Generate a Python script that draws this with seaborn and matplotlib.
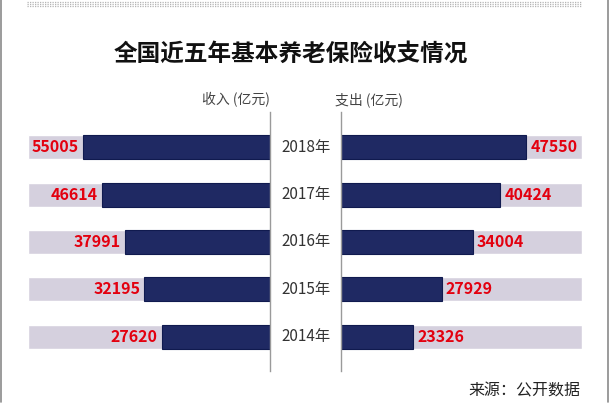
import pandas as pd
import matplotlib.pyplot as plt
import seaborn as sns
from matplotlib.lines import Line2D

years = ['2018年', '2017年', '2016年', '2015年', '2014年']
income = [55005, 46614, 37991, 32195, 27620]   # 收入 (亿元)
expense = [47550, 40424, 34004, 27929, 23326]  # 支出 (亿元)

# the original graphic uses a log-like scale, each side its own range
income_lim = (10770, 88800)
expense_lim = (14800, 67700)

navy = '#1f2963'
track = '#d5d0de'
red = '#e3000f'

sns.set_theme(style='white')
plt.rcParams['font.family'] = ['Noto Sans CJK SC', 'DejaVu Sans']

df = pd.DataFrame({'year': years, 'income': income, 'expense': expense})
df['income_full'] = income_lim[1]
df['expense_full'] = expense_lim[1]

fig = plt.figure(figsize=(6.1, 4.16), dpi=100)
W, H = 610, 416
ax_l = fig.add_axes([28 / W, 1 - 371 / H, 242 / W, 259 / H])
ax_r = fig.add_axes([341 / W, 1 - 371 / H, 241 / W, 259 / H])

for ax, col, full, lim in [(ax_l, 'income', 'income_full', income_lim),
                           (ax_r, 'expense', 'expense_full', expense_lim)]:
    ax.set_xscale('log')
    sns.barplot(data=df, x=full, y='year', color=track, width=0.505,
                saturation=1, ax=ax)
    sns.barplot(data=df, x=col, y='year', color=navy, width=0.505,
                saturation=1, edgecolor='#101a4f', linewidth=0.8, ax=ax)
    ax.set_xlim(*lim)
    ax.set_ylim(4.72, -0.74)
    ax.set_xlabel('')
    ax.set_ylabel('')
    ax.set_xticks([])
    ax.set_xticks([], minor=True)
    ax.set_yticks([])
    for s in ax.spines.values():
        s.set_visible(False)

ax_l.invert_xaxis()
ax_l.spines['right'].set_visible(True)
ax_l.spines['right'].set_color('#9a9a9a')
ax_l.spines['right'].set_linewidth(1)
ax_r.spines['left'].set_visible(True)
ax_r.spines['left'].set_color('#9a9a9a')
ax_r.spines['left'].set_linewidth(1)

# value labels
for i, v in enumerate(income):
    ax_l.annotate(str(v), (v, i), xytext=(-3, 0), textcoords='offset points',
                  ha='right', va='center', color=red, fontsize=11.5,
                  fontweight='bold')
for i, v in enumerate(expense):
    ax_r.annotate(str(v), (v, i), xytext=(3, 0), textcoords='offset points',
                  ha='left', va='center', color=red, fontsize=11.5,
                  fontweight='bold')

# year labels between the two panels
for i, y in enumerate(years):
    ax_r.annotate(y, (0, i), xycoords=('axes fraction', 'data'),
                  xytext=(-25.5, 0), textcoords='offset points',
                  ha='center', va='center', color='#333333', fontsize=11,
                  fontweight='light', annotation_clip=False)

fig.text(291 / W, 1 - 54 / H, '全国近五年基本养老保险收支情况', ha='center',
         va='center', fontsize=17, fontweight='bold', color='#111111')
fig.text(270 / W, 1 - 100 / H, '收入 (亿元)', ha='right', va='center',
         fontsize=10, color='#444444')
fig.text(335 / W, 1 - 100 / H, '支出 (亿元)', ha='left', va='center',
         fontsize=10, color='#444444')
fig.text(580 / W, 1 - 391 / H, '来源：公开数据', ha='right', va='center',
         fontsize=11.5, color='#222222')

# frame and dotted strip at the top
fig.add_artist(Line2D([1 / W, 1 / W], [1, 1 - 402 / H], color='#8a8a8a', lw=1.2))
fig.add_artist(Line2D([608 / W, 608 / W], [1, 1 - 402 / H], color='#8a8a8a', lw=1.2))
for yy in [1.5, 3.5, 5.5]:
    fig.add_artist(Line2D([27 / W, 582 / W], [1 - yy / H, 1 - yy / H],
                          color='#b5b5b5', lw=0.9, linestyle=(0, (1, 1))))

fig.savefig('out.png', dpi=100)
